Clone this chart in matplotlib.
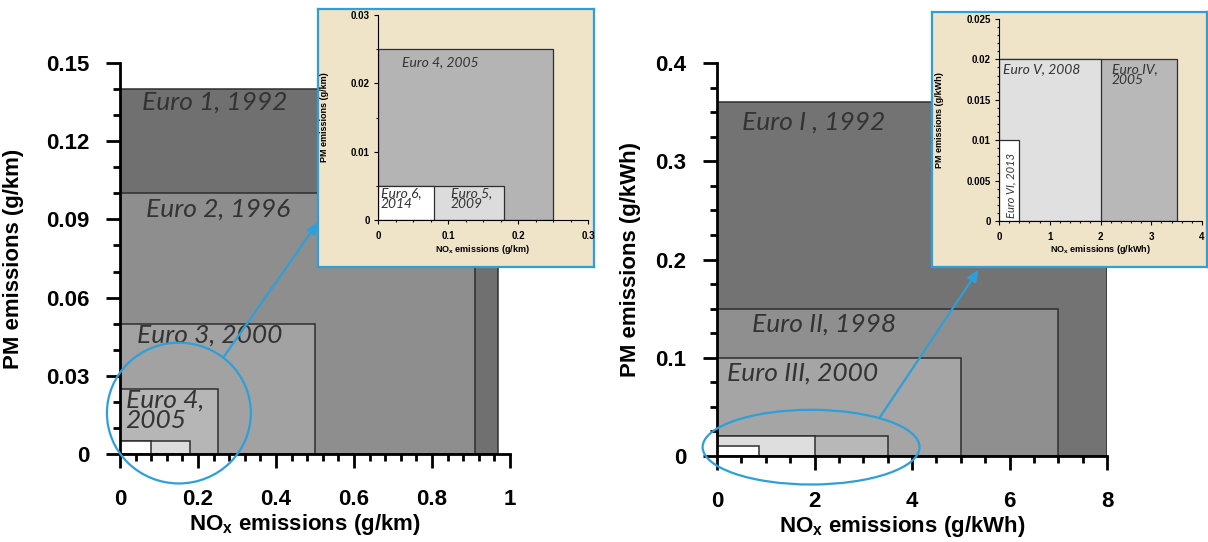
import matplotlib
matplotlib.use("Agg")
import matplotlib.pyplot as plt
import numpy as np
from matplotlib.patches import Ellipse, Rectangle
from matplotlib.ticker import FuncFormatter, MultipleLocator

# passenger cars, g/km (main chart)
car_labels = ["Euro 1, 1992", "Euro 2, 1996", "Euro 3, 2000", "Euro 4,\n2005", "Euro 5", "Euro 6"]
car_nox = [0.97, 0.91, 0.50, 0.25, 0.18, 0.08]
car_pm = [0.14, 0.10, 0.05, 0.025, 0.005, 0.005]

# passenger cars, zoomed inset
car_zoom_labels = ["Euro 4, 2005", "Euro 5,\n2009", "Euro 6,\n2014"]
car_zoom_nox = [0.25, 0.18, 0.08]
car_zoom_pm = [0.025, 0.005, 0.005]

# heavy duty, g/kWh (main chart)
hd_labels = ["Euro I , 1992", "Euro II, 1998", "Euro III, 2000", "Euro IV", "Euro V", "Euro VI"]
hd_nox = [8.0, 7.0, 5.0, 3.5, 2.0, 0.86]
hd_pm = [0.36, 0.15, 0.10, 0.02, 0.02, 0.01]

# heavy duty, zoomed inset
hd_zoom_labels = ["Euro IV,\n2005", "Euro V, 2008", "Euro VI, 2013"]
hd_zoom_nox = [3.5, 2.0, 0.4]
hd_zoom_pm = [0.02, 0.02, 0.01]

plt.rcParams["font.family"] = ["Liberation Sans", "DejaVu Sans"]
plt.rcParams["mathtext.fontset"] = "custom"
plt.rcParams["mathtext.rm"] = "Liberation Sans:bold"
plt.rcParams["mathtext.bf"] = "Liberation Sans:bold"

BLUE = "#2e9fd8"
PAPER = "#efe3c8"
EDGE = "#2e2e2e"
LABEL_FONT = dict(family=["Lato", "DejaVu Sans"], style="italic", weight="normal", color="#333333")

fig = plt.figure(figsize=(12.08, 5.42), dpi=100)
W, H = 1208.0, 542.0


def px_axes(left, top, right, bottom, **kw):
    return fig.add_axes([left / W, 1 - bottom / H, (right - left) / W, (bottom - top) / H], **kw)


def fmt(v, _):
    return "%g" % v


def style_axes(ax, size, major, minor, tick_len, tick_w, pad, xpad=None):
    for side in ("top", "right"):
        ax.spines[side].set_visible(False)
    for side in ("left", "bottom"):
        ax.spines[side].set_linewidth(tick_w)
    ax.xaxis.set_major_locator(MultipleLocator(major[0]))
    ax.xaxis.set_minor_locator(MultipleLocator(minor[0]))
    ax.yaxis.set_major_locator(MultipleLocator(major[1]))
    ax.yaxis.set_minor_locator(MultipleLocator(minor[1]))
    ax.xaxis.set_major_formatter(FuncFormatter(fmt))
    ax.yaxis.set_major_formatter(FuncFormatter(fmt))
    ax.tick_params(which="major", direction="out", length=tick_len, width=tick_w,
                   labelsize=size, pad=pad)
    if xpad is not None:
        ax.tick_params(axis="x", which="major", pad=xpad)
    ax.tick_params(which="minor", direction="out", length=tick_len * 0.5, width=tick_w)
    for lab in ax.get_xticklabels() + ax.get_yticklabels():
        lab.set_fontweight("bold")


def draw_boxes(ax, nox, pm, colors, lw):
    for x, y, c in zip(nox, pm, colors):
        ax.add_patch(Rectangle((0, 0), x, y, facecolor=c, edgecolor=EDGE, linewidth=lw))


def label_boxes(ax, left, pm, labels, offsets, size):
    # left: x where the visible part of each box starts
    for x, y, text, off in zip(left, pm, labels, offsets):
        if off is None:
            continue
        ax.annotate(text, xy=(x, y), xytext=off, textcoords="offset points",
                    ha="left", va="top", fontsize=size, linespacing=0.85, **LABEL_FONT)


def paper_box(left, top, right, bottom):
    box = px_axes(left, top, right, bottom, zorder=1)
    box.set_facecolor(PAPER)
    box.set_xticks([])
    box.set_yticks([])
    for s in box.spines.values():
        s.set_edgecolor(BLUE)
        s.set_linewidth(1.6)
    return box


def zoom_arrow(ax, ell, theta, target_ax, target):
    cx, cy = ell.center
    start = (cx + ell.width / 2 * np.cos(np.radians(theta)),
             cy + ell.height / 2 * np.sin(np.radians(theta)))
    ax.annotate("", xy=target, xycoords=target_ax.transAxes, xytext=start, textcoords="data",
                arrowprops=dict(arrowstyle="-|>,head_length=0.7,head_width=0.3", color=BLUE,
                                lw=1.6, shrinkA=0, shrinkB=0), annotation_clip=False, zorder=6)


car_colors = ["#707070", "#8e8e8e", "#a2a2a2", "#b6b6b6", "#dcdcdc", "#ffffff"]
hd_colors = ["#737373", "#8f8f8f", "#a5a5a5", "#b8b8b8", "#dedede", "#ffffff"]

# ---------------- left main chart
ax1 = px_axes(120, 63, 510, 454, zorder=0)
ax1.set_xlim(0, 1)
ax1.set_ylim(0, 0.15)
draw_boxes(ax1, car_nox, car_pm, car_colors, 1.1)
label_boxes(ax1, [0] * 4, car_pm[:4], car_labels[:4],
            [(16, -1), (19, -3), (12, 0), (4, 0)], 19)
style_axes(ax1, 16, (0.2, 0.03), (0.04, 0.01), 10, 2.0, 12, xpad=15)
ax1.set_ylabel("PM emissions (g/km)", fontsize=16, fontweight="bold")
ax1.yaxis.set_label_coords(-0.245, 0.5)
ax1.set_xlabel(r"NO$_\mathbf{x}$ emissions (g/km)", fontsize=16, fontweight="bold")
ax1.xaxis.set_label_coords(0.475, -0.148)
ell1 = Ellipse((0.151, 0.0157), 0.369, 0.054, fill=False, edgecolor=BLUE, lw=1.6,
               clip_on=False, zorder=5)
ax1.add_patch(ell1)

# ---------------- left inset
paper_box(318, 9, 594, 267)
in1 = px_axes(378, 15, 588, 220, zorder=2)
in1.set_facecolor("none")
in1.set_xlim(0, 0.3)
in1.set_ylim(0, 0.03)
draw_boxes(in1, car_zoom_nox, car_zoom_pm, ["#b4b4b4", "#dcdcdc", "#ffffff"], 0.9)
label_boxes(in1, [0, car_zoom_nox[2], 0], car_zoom_pm, car_zoom_labels,
            [(17, -5), (12, -1), (2, -1)], 10)
style_axes(in1, 7, (0.1, 0.01), (0.025, 0.005), 3, 0.8, 3, xpad=5)
in1.set_ylabel("PM emissions (g/km)", fontsize=6.5, fontweight="bold")
in1.yaxis.set_label_coords(-0.235, 0.5)
in1.set_xlabel(r"NO$_\mathbf{x}$ emissions (g/km)", fontsize=6.5, fontweight="bold", labelpad=1)
zoom_arrow(ax1, ell1, 52, in1, (-0.285, -0.01))

# ---------------- right main chart
ax2 = px_axes(717, 63, 1107, 456, zorder=0)
ax2.set_xlim(0, 8)
ax2.set_ylim(0, 0.4)
draw_boxes(ax2, hd_nox, hd_pm, hd_colors, 1.1)
label_boxes(ax2, [0] * 3, hd_pm[:3], hd_labels[:3], [(18, -6), (25, -3), (7, -3)], 19)
style_axes(ax2, 16, (2, 0.1), (0.5, 0.025), 10, 2.0, 12, xpad=15)
ax2.set_ylabel("PM emissions (g/kWh)", fontsize=16, fontweight="bold")
ax2.yaxis.set_label_coords(-0.195, 0.5)
ax2.set_xlabel(r"NO$_\mathbf{x}$ emissions (g/kWh)", fontsize=16, fontweight="bold")
ax2.xaxis.set_label_coords(0.475, -0.148)
ell2 = Ellipse((1.93, 0.009), 4.45, 0.076, fill=False, edgecolor=BLUE, lw=1.6,
               clip_on=False, zorder=5)
ax2.add_patch(ell2)

# ---------------- right inset
paper_box(932, 12, 1207, 267)
in2 = px_axes(999, 19, 1202, 221, zorder=2)
in2.set_facecolor("none")
in2.set_xlim(0, 4)
in2.set_ylim(0, 0.025)
draw_boxes(in2, hd_zoom_nox, hd_zoom_pm, ["#b8b8b8", "#e0e0e0", "#ffffff"], 0.9)
label_boxes(in2, [hd_zoom_nox[1], 0], hd_zoom_pm[:2], hd_zoom_labels[:2], [(8, -3), (3, -3)], 10)
in2.annotate(hd_zoom_labels[2], xy=(hd_zoom_nox[2] / 2, 0), xytext=(1, 2),
             textcoords="offset points", ha="center", va="bottom", rotation=90,
             fontsize=8, **LABEL_FONT)
style_axes(in2, 7, (1, 0.005), (0.2, 0.001), 3, 0.8, 3, xpad=5)
in2.set_ylabel("PM emissions (g/kWh)", fontsize=6.5, fontweight="bold")
in2.yaxis.set_label_coords(-0.27, 0.5)
in2.set_xlabel(r"NO$_\mathbf{x}$ emissions (g/kWh)", fontsize=6.5, fontweight="bold", labelpad=1)
zoom_arrow(ax2, ell2, 51, in2, (-0.1, -0.24))

fig.savefig("out.png", dpi=100)
